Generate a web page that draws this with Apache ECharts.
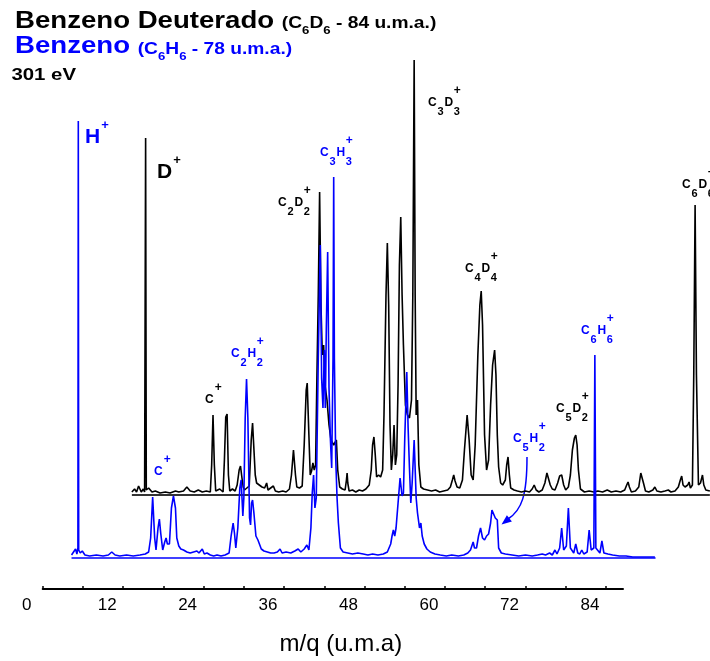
<!DOCTYPE html>
<html>
<head>
<meta charset="utf-8">
<script src="https://cdn.jsdelivr.net/npm/echarts@6/dist/echarts.min.js"></script>
<style>
html, body { margin: 0; padding: 0; background: #fff; }
#main { width: 710px; height: 661px; }
</style>
</head>
<body>
<div id="main"></div>
<script>
// eixo m/q
var xLabels = [0, 12, 24, 36, 48, 60, 72, 84];
var xTicks = [0, 6, 12, 18, 24, 30, 36, 42, 48, 54, 60, 66, 72, 78, 84];

// Benzeno (C6H6) - [m/q, intensidade]
var benzeno = [
    [4.3, 3], [4.6, 6], [4.9, 9], [5.1, 4], [5.25, 10], [5.31, 437], [5.37, 8], [5.6, 5], [5.9, 7], [6.3, 3],
    [7.0, 2], [8.0, 3], [9.0, 2], [9.8, 3], [10.3, 6], [10.8, 3], [11.5, 2], [12.5, 3], [13.5, 2], [14.5, 3],
    [15.3, 4], [15.8, 6], [16.1, 20], [16.4, 61], [16.7, 20], [16.9, 8], [17.2, 30], [17.4, 39], [17.6, 25], [17.9, 8],
    [18.2, 16], [18.4, 20], [18.6, 14], [18.9, 14], [19.2, 50], [19.5, 62], [19.8, 50], [20.0, 20], [20.3, 12], [20.6, 9],
    [21.0, 8], [21.5, 6], [22.0, 5], [22.5, 6], [23.0, 7], [23.3, 5], [23.8, 9], [24.1, 4], [24.5, 5], [25.0, 3],
    [25.5, 2], [26.0, 3], [26.6, 2], [27.2, 3], [27.8, 5], [28.1, 22], [28.4, 35], [28.6, 25], [28.8, 10], [29.1, 30],
    [29.4, 70], [29.6, 78], [29.85, 42], [30.0, 60], [30.2, 140], [30.4, 179], [30.6, 140], [30.85, 40], [31.0, 33], [31.15, 55],
    [31.3, 58], [31.5, 45], [31.8, 22], [32.1, 18], [32.3, 18], [32.6, 9], [33.0, 7], [33.5, 6], [34.0, 5], [34.5, 5],
    [35.0, 6], [35.4, 9], [35.7, 5], [36.3, 6], [37.0, 5], [37.6, 7], [38.1, 9], [38.5, 6], [39.0, 9], [39.4, 13],
    [39.7, 8], [40.0, 30], [40.2, 65], [40.4, 83], [40.6, 50], [40.8, 60], [41.1, 200], [41.4, 313], [41.6, 180], [41.8, 150],
    [42.0, 208], [42.15, 150], [42.3, 230], [42.5, 306], [42.7, 170], [42.9, 120], [43.1, 90], [43.3, 200], [43.4, 381], [43.5, 200],
    [43.7, 100], [43.9, 60], [44.1, 35], [44.4, 10], [44.8, 6], [45.5, 5], [46.2, 4], [47.0, 5], [47.8, 4], [48.5, 3],
    [49.2, 4], [50.0, 3], [50.8, 4], [51.4, 6], [51.9, 14], [52.1, 22], [52.3, 28], [52.5, 22], [52.7, 30], [53.0, 55],
    [53.3, 80], [53.6, 62], [53.8, 65], [54.0, 120], [54.3, 186], [54.5, 130], [54.7, 90], [54.9, 55], [55.1, 75], [55.4, 118],
    [55.7, 60], [55.9, 45], [56.2, 30], [56.4, 35], [56.6, 22], [56.9, 14], [57.3, 9], [57.8, 6], [58.5, 4], [59.3, 3],
    [60.2, 2], [61.0, 3], [62.0, 2], [62.8, 3], [63.4, 5], [63.8, 8], [64.0, 12], [64.2, 16], [64.4, 10], [64.7, 10],
    [65.0, 22], [65.3, 30], [65.6, 20], [65.9, 18], [66.2, 22], [66.5, 24], [66.8, 35], [67.0, 48], [67.2, 50], [67.5, 40],
    [67.8, 38], [68.0, 10], [68.4, 5], [69.0, 4], [70.0, 3], [71.0, 2], [72.0, 3], [73.0, 2], [73.8, 3], [74.5, 4],
    [75.0, 3], [75.6, 5], [76.0, 3], [76.4, 8], [76.7, 4], [77.1, 10], [77.4, 30], [77.7, 8], [78.1, 12], [78.4, 50],
    [78.7, 10], [79.2, 5], [79.5, 14], [79.8, 5], [80.1, 4], [80.4, 8], [80.7, 4], [81.2, 6], [81.5, 28], [81.8, 8],
    [82.2, 10], [82.35, 203], [82.5, 10], [83.1, 5], [83.4, 17], [83.7, 5], [84.3, 4], [85.0, 3], [86.0, 2], [87.0, 2],
    [88.0, 1], [89.0, 1], [90.0, 1], [91.3, 1]
];

// Benzeno deuterado (C6D6)
var deuterado = [
    [13.3, 3], [13.7, 6], [14.0, 3], [14.3, 9], [14.5, 10], [14.7, 3], [15.0, 6], [15.2, 3], [15.35, 357], [15.45, 5],
    [15.8, 7], [16.3, 3], [16.8, 4], [17.5, 2], [18.3, 3], [19.0, 2], [19.8, 4], [20.3, 3], [21.0, 4], [21.5, 8],
    [22.0, 4], [22.6, 3], [23.2, 5], [23.8, 3], [24.4, 4], [25.0, 3], [25.2, 30], [25.4, 80], [25.6, 30], [25.8, 4],
    [26.4, 6], [26.9, 3], [27.1, 35], [27.3, 78], [27.5, 81], [27.7, 20], [27.9, 4], [28.3, 6], [28.7, 4], [29.0, 10],
    [29.3, 25], [29.5, 29], [29.7, 18], [29.9, 8], [30.1, 5], [30.8, 9], [31.1, 55], [31.3, 72], [31.5, 70], [31.7, 20],
    [31.9, 12], [32.3, 10], [32.7, 8], [33.1, 7], [33.4, 12], [33.6, 5], [34.0, 7], [34.4, 9], [34.7, 4], [35.2, 3],
    [35.8, 4], [36.3, 3], [36.8, 6], [37.1, 20], [37.4, 45], [37.7, 20], [37.9, 8], [38.3, 7], [38.7, 9], [39.0, 50],
    [39.3, 105], [39.45, 112], [39.7, 60], [39.9, 20], [40.1, 24], [40.3, 32], [40.5, 25], [40.7, 30], [40.9, 120], [41.1, 200],
    [41.3, 303], [41.5, 190], [41.7, 140], [41.9, 150], [42.1, 110], [42.4, 95], [42.7, 70], [43.0, 55], [43.4, 50], [43.8, 55],
    [44.0, 25], [44.3, 8], [44.7, 6], [45.1, 5], [45.3, 15], [45.4, 22], [45.5, 12], [45.7, 4], [46.2, 5], [46.7, 3],
    [47.2, 5], [47.7, 4], [48.2, 6], [48.7, 10], [49.0, 25], [49.2, 50], [49.4, 58], [49.6, 40], [49.8, 18], [50.1, 20],
    [50.4, 18], [50.7, 25], [50.9, 80], [51.2, 200], [51.4, 252], [51.6, 190], [51.8, 70], [52.0, 25], [52.2, 40], [52.4, 70],
    [52.6, 30], [52.8, 40], [53.0, 110], [53.2, 230], [53.4, 278], [53.6, 200], [53.8, 150], [54.1, 90], [54.4, 80], [54.7, 77],
    [55.0, 95], [55.2, 200], [55.4, 435], [55.55, 200], [55.7, 80], [55.9, 95], [56.1, 30], [56.4, 8], [56.8, 6], [57.4, 5],
    [58.0, 4], [58.6, 5], [59.2, 3], [59.8, 4], [60.4, 5], [60.8, 8], [61.1, 15], [61.3, 20], [61.5, 14], [61.8, 8],
    [62.2, 7], [62.6, 15], [62.9, 45], [63.3, 80], [63.6, 55], [63.9, 20], [64.2, 15], [64.5, 50], [64.9, 140], [65.2, 190],
    [65.4, 204], [65.6, 170], [65.9, 60], [66.2, 25], [66.5, 35], [66.8, 90], [67.1, 130], [67.4, 145], [67.6, 120], [67.8, 60],
    [68.0, 28], [68.3, 12], [68.6, 10], [69.0, 15], [69.2, 30], [69.4, 38], [69.6, 20], [69.8, 7], [70.3, 5], [70.8, 4],
    [71.4, 3], [72.0, 4], [72.6, 3], [73.0, 6], [73.3, 10], [73.6, 5], [74.0, 3], [74.5, 5], [74.9, 12], [75.2, 22],
    [75.4, 23], [75.7, 10], [76.0, 6], [76.4, 5], [76.8, 12], [77.1, 19], [77.4, 20], [77.7, 10], [78.0, 5], [78.4, 8],
    [78.7, 20], [79.0, 45], [79.3, 57], [79.5, 60], [79.7, 50], [79.9, 25], [80.2, 6], [80.8, 3], [81.5, 4], [82.2, 3],
    [82.8, 4], [83.5, 3], [84.2, 5], [84.8, 3], [85.5, 4], [86.2, 3], [86.8, 5], [87.1, 10], [87.3, 13], [87.5, 8],
    [87.8, 3], [88.4, 4], [88.9, 8], [89.2, 22], [89.4, 24], [89.6, 12], [89.9, 4], [90.4, 3], [91.0, 5], [91.3, 8],
    [91.6, 4], [92.2, 3], [92.8, 4], [93.3, 5], [93.7, 3], [94.3, 4], [94.8, 8], [95.1, 15], [95.3, 19], [95.5, 10],
    [95.8, 8], [96.2, 10], [96.4, 13], [96.6, 7], [96.9, 10], [97.1, 120], [97.3, 290], [97.5, 120], [97.8, 10], [98.1, 12],
    [98.4, 20], [98.6, 10], [98.9, 5], [99.5, 4]
];

var benzenoBase = [[4.3, 0], [91.4, 0]];
var deuteradoBase = [[13.3, 0], [99.5, 0]];

var FONT = '"Liberation Sans", Arial, sans-serif';
var BLUE = '#0000ff';
var ctx = document.createElement('canvas').getContext('2d');
function textW(s, size) {
    ctx.font = 'bold ' + size + 'px ' + FONT;
    return ctx.measureText(s).width;
}
function piece(x, base, text, size, color) {
    return {
        type: 'text', x: x, y: base - 0.35 * size, silent: true,
        style: {text: text, fill: color, font: 'bold ' + size + 'px ' + FONT, verticalAlign: 'middle', align: 'left'}
    };
}
// "C_3D_3^+" -> pecas com subscrito e sobrescrito
function formula(x, base, str, color, o) {
    var out = [], cx = x, lastSubX = null, i = 0;
    while (i < str.length) {
        var c = str[i];
        if (c === '_') {
            out.push(piece(cx + o.gap, base + o.subDy, str[i + 1], o.subSize, color));
            lastSubX = cx + o.gap;
            cx += o.gap + textW(str[i + 1], o.subSize) + o.gap;
            i += 2;
        } else if (c === '^') {
            var px = lastSubX !== null ? lastSubX : cx + 1;
            out.push(piece(px, base + o.supDy, str[i + 1], o.supSize, color));
            i += 2;
        } else {
            out.push(piece(cx, base, c, o.size, color));
            cx += textW(c, o.size);
            lastSubX = null;
            i += 1;
        }
    }
    return out;
}
var small = {size: 12, subSize: 11, subDy: 9, supSize: 12, supDy: -12.5, gap: 0.8};
var big = {size: 21, subSize: 12, subDy: 9, supSize: 13, supDy: -15, gap: 1};

var elements = [];
function add(arr) { elements = elements.concat(arr); }
add(formula(85, 145, 'H^+', BLUE, big));
add(formula(157, 180, 'D^+', '#000', big));
add(formula(205, 404, 'C^+', '#000', small));
add(formula(154, 476, 'C^+', BLUE, small));
add(formula(231, 358, 'C_2H_2^+', BLUE, small));
add(formula(278, 207, 'C_2D_2^+', '#000', small));
add(formula(320, 157, 'C_3H_3^+', BLUE, small));
add(formula(428, 107, 'C_3D_3^+', '#000', small));
add(formula(465, 273, 'C_4D_4^+', '#000', small));
add(formula(513, 443, 'C_5H_2^+', BLUE, small));
add(formula(556, 413, 'C_5D_2^+', '#000', small));
add(formula(581, 335, 'C_6H_6^+', BLUE, small));
add(formula(682, 189, 'C_6D_6^+', '#000', small));

// seta C5H2+
elements.push({
    type: 'bezierCurve', silent: true,
    shape: {x1: 527, y1: 457, cpx1: 527, cpy1: 495, cpx2: 522, cpy2: 510, x2: 508, y2: 519},
    style: {stroke: BLUE, lineWidth: 1.5, fill: null}
});
elements.push({
    type: 'polygon', silent: true,
    shape: {points: [[501.5, 524.5], [511.9, 521.4], [506.9, 515.2]]},
    style: {fill: BLUE}
});

// titulo (esticado na horizontal)
var t1 = 'Benzeno Deuterado ';
var t2 = 'Benzeno ';
var titleKids = [];
titleKids.push(piece(0, 29.3, t1, 23, '#000'));
var tx = textW(t1, 23);
titleKids.push(piece(tx, 29.3, '(C', 16, '#000')); tx += textW('(C', 16);
titleKids.push(piece(tx, 35, '6', 11, '#000')); tx += textW('6', 11);
titleKids.push(piece(tx, 29.3, 'D', 16, '#000')); tx += textW('D', 16);
titleKids.push(piece(tx, 35, '6', 11, '#000')); tx += textW('6', 11);
titleKids.push(piece(tx, 29.3, ' - 84 u.m.a.)', 16, '#000'));
titleKids.push(piece(0, 55, t2, 23, BLUE));
tx = textW(t2, 23);
titleKids.push(piece(tx, 55, '(C', 16, BLUE)); tx += textW('(C', 16);
titleKids.push(piece(tx, 61, '6', 11, BLUE)); tx += textW('6', 11);
titleKids.push(piece(tx, 55, 'H', 16, BLUE)); tx += textW('H', 16);
titleKids.push(piece(tx, 61, '6', 11, BLUE)); tx += textW('6', 11);
titleKids.push(piece(tx, 55, ' - 78 u.m.a.)', 16, BLUE));
titleKids.push(piece(-3, 81.7, '301 eV', 17, '#000'));
elements.push({type: 'group', x: 15, y: 0, scaleX: 1.2, children: titleKids});

var chart = echarts.init(document.getElementById('main'));
// 6.705 px por unidade de m/q; eixo visivel vai ate 86.55, espectros ate 99.5
var gridLeft = 42.7, axisWidth = 580.3, axisMax = 86.55, dataWidth = 667.15, dataMax = 99.5, yMax = 440;

chart.setOption({
    animation: false,
    backgroundColor: '#fff',
    grid: [
        {left: gridLeft, width: dataWidth, top: 55, height: 440},
        {left: gridLeft, width: dataWidth, top: 118, height: 440},
        {left: gridLeft, width: axisWidth, top: 150, height: 440}
    ],
    xAxis: [{
        gridIndex: 0, type: 'value', min: 0, max: dataMax, show: false
    }, {
        gridIndex: 1, type: 'value', min: 0, max: dataMax, show: false
    }, {
        gridIndex: 2, type: 'value', min: 0, max: axisMax,
        name: 'm/q (u.m.a)', nameLocation: 'middle', nameGap: 43,
        nameTextStyle: {fontSize: 24, color: '#000', fontFamily: FONT, padding: [0, 0, 0, 16]},
        axisLine: {onZero: false, lineStyle: {color: '#000', width: 2}},
        axisTick: {inside: true, length: 3, customValues: xTicks, lineStyle: {color: '#000', width: 1.5}},
        axisLabel: {customValues: xLabels, fontSize: 17, color: '#000', fontFamily: FONT, margin: 8, padding: [0, 32, 0, 0]},
        splitLine: {show: false}
    }],
    yAxis: [
        {gridIndex: 0, type: 'value', min: 0, max: yMax, show: false},
        {gridIndex: 1, type: 'value', min: 0, max: yMax, show: false},
        {gridIndex: 2, type: 'value', min: 0, max: 1, show: false}
    ],
    graphic: {elements: elements},
    series: [{
        name: 'base C6D6', type: 'line', xAxisIndex: 0, yAxisIndex: 0, data: deuteradoBase,
        showSymbol: false, clip: false, silent: true, lineStyle: {color: '#333', width: 2}
    }, {
        name: 'C6D6', type: 'line', xAxisIndex: 0, yAxisIndex: 0, data: deuterado,
        showSymbol: false, clip: false, silent: true, lineStyle: {color: '#000', width: 1.6}
    }, {
        name: 'base C6H6', type: 'line', xAxisIndex: 1, yAxisIndex: 1, data: benzenoBase,
        showSymbol: false, clip: false, silent: true, lineStyle: {color: BLUE, width: 1.5}
    }, {
        name: 'C6H6', type: 'line', xAxisIndex: 1, yAxisIndex: 1, data: benzeno,
        showSymbol: false, clip: false, silent: true, lineStyle: {color: BLUE, width: 1.6}
    }]
});
</script>
</body>
</html>
